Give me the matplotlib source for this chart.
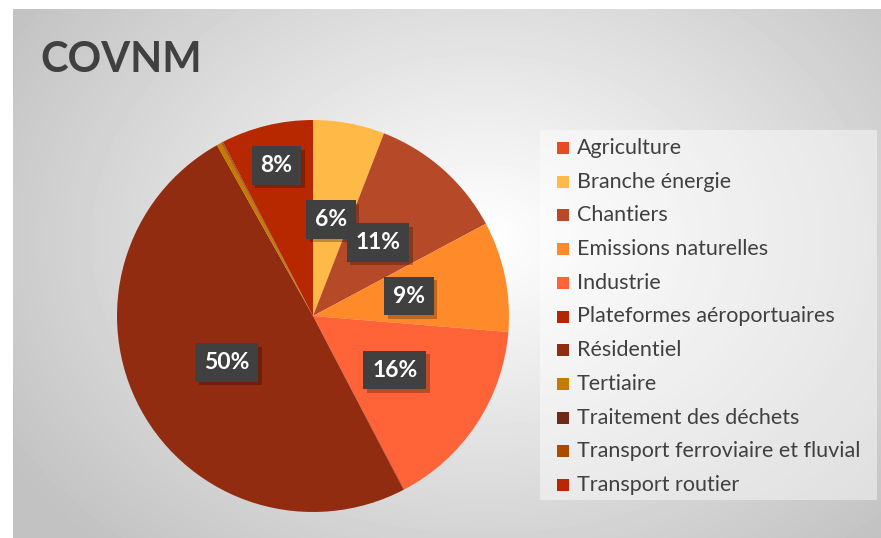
import numpy as np
import matplotlib.pyplot as plt
from matplotlib.patches import Rectangle
from matplotlib.patheffects import SimplePatchShadow, Normal

# COVNM emissions share by sector
sectors = [
    "Agriculture",
    "Branche énergie",
    "Chantiers",
    "Emissions naturelles",
    "Industrie",
    "Plateformes aéroportuaires",
    "Résidentiel",
    "Tertiaire",
    "Traitement des déchets",
    "Transport ferroviaire et fluvial",
    "Transport routier",
]
shares = [0.0, 5.9, 11.3, 9.1, 16.0, 0.05, 49.5, 0.4, 0.05, 0.1, 7.6]
colors = [
    "#E64B23", "#FFB946", "#B64A28", "#FF8A2A", "#FF6337", "#B42600",
    "#922C10", "#C57A00", "#6E2A17", "#AE4A00", "#B82800",
]

W, H = 881, 538
plt.rcParams["font.family"] = ["Lato", "DejaVu Sans"]
fig = plt.figure(figsize=(W / 100, H / 100), dpi=100)

# gray panel with a soft radial gradient
bg = fig.add_axes([13 / W, 0, 1 - 13 / W, 1 - 9 / H])
bg.set_axis_off()
yy, xx = np.mgrid[0:529, 0:868]
d = np.sqrt(((xx - 470) / 560) ** 2 + ((yy - 230) / 420) ** 2)
shade = np.clip(1.0 - 0.24 * d, 0.76, 1.0)
bg.imshow(shade, cmap="gray", vmin=0, vmax=1, aspect="auto",
          extent=(0, 1, 0, 1), origin="upper")
bg.set_xlim(0, 1)
bg.set_ylim(0, 1)

fig.text(40 / W, 1 - 60 / H, "COVNM", fontsize=30, fontweight="bold",
         color="#404040", va="center", ha="left")

# pie
ax = fig.add_axes([117 / W, 26 / H, 392 / W, 392 / H])
wedges, _ = ax.pie(shares, colors=colors, startangle=90, counterclock=False,
                   radius=1.0, wedgeprops=dict(linewidth=0))
ax.set_aspect("equal")
ax.set_xlim(-1, 1)
ax.set_ylim(-1, 1)

total = sum(shares)
for w, val, name in zip(wedges, shares, sectors):
    pct = 100 * val / total
    if pct < 1:
        continue
    mid = np.deg2rad((w.theta1 + w.theta2) / 2)
    r = 0.79 if name == "Transport routier" else 0.5
    x, y = r * np.cos(mid), r * np.sin(mid)
    t = ax.text(x, y, f"{pct:.0f}%", ha="center", va="center", fontsize=16.5,
                fontweight="bold", color="white",
                bbox=dict(boxstyle="square,pad=0.38", facecolor="#404040",
                          linewidth=0))
    t.get_bbox_patch().set_path_effects(
        [SimplePatchShadow(offset=(2.5, -2.5), shadow_rgbFace="black", alpha=0.25),
         Normal()])

# legend
fig.patches.append(Rectangle((540 / W, 1 - 500 / H), 337 / W, 370 / H,
                             transform=fig.transFigure, facecolor="white",
                             alpha=0.45, linewidth=0, zorder=1))
y0, step = 148, 33.7
for i, (name, c) in enumerate(zip(sectors, colors)):
    yc = y0 + i * step
    fig.patches.append(Rectangle((557 / W, 1 - (yc + 6) / H), 12 / W, 12 / H,
                                 transform=fig.transFigure, facecolor=c,
                                 linewidth=0, zorder=2))
    fig.text(577 / W, 1 - yc / H, name, fontsize=15.5, color="#404040",
             va="center", ha="left", zorder=3)

fig.savefig("out.png", dpi=100)
